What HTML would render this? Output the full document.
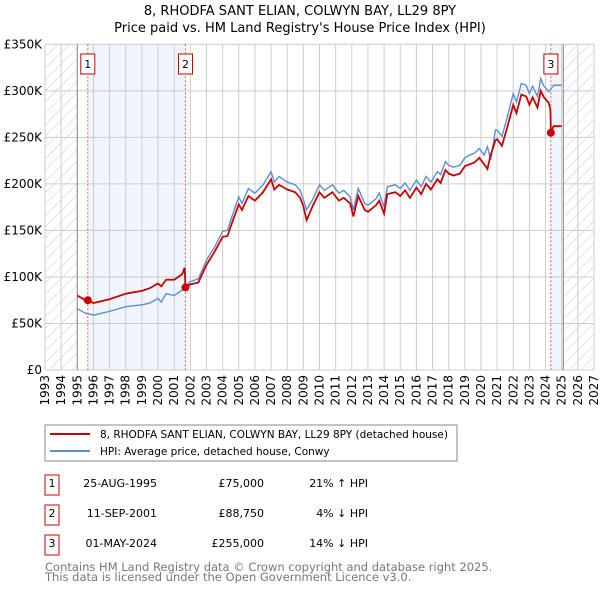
<!DOCTYPE html>
<html><head><meta charset="utf-8"><style>
body{margin:0;background:#fff;font-family:"DejaVu Sans","Liberation Sans",sans-serif;}
svg text{font-family:"DejaVu Sans","Liberation Sans",sans-serif;}
</style></head><body>
<svg id="chart" width="600" height="590" xmlns="http://www.w3.org/2000/svg">
<defs><pattern id="hatch" width="8" height="8" patternUnits="userSpaceOnUse" patternTransform="rotate(45)"><line x1="0" y1="0" x2="0" y2="8" stroke="#ccc" stroke-width="1"/></pattern></defs>
<text x="300" y="15" text-anchor="middle" font-size="13">8, RHODFA SANT ELIAN, COLWYN BAY, LL29 8PY</text>
<text x="300" y="32" text-anchor="middle" font-size="13">Price paid vs. HM Land Registry's House Price Index (HPI)</text>
<g id="plot"></g>
<rect x="45" y="425" width="412" height="36" fill="#fff" stroke="#888"/>
<line x1="50" y1="434" x2="90" y2="434" stroke="#cc0000" stroke-width="2"/>
<text x="100" y="438" font-size="10.5">8, RHODFA SANT ELIAN, COLWYN BAY, LL29 8PY (detached house)</text>
<line x1="50" y1="451" x2="90" y2="451" stroke="#5b8fd0" stroke-width="2"/>
<text x="100" y="455" font-size="10.5">HPI: Average price, detached house, Conwy</text>
<g font-size="11">
<rect x="45" y="475" width="14" height="20" fill="#fff" stroke="#cc0000"/><text x="52" y="487" text-anchor="middle">1</text>
<text x="157" y="487" text-anchor="end">25-AUG-1995</text><text x="264" y="487" text-anchor="end">£75,000</text><text x="368" y="487" text-anchor="end">21% ↑ HPI</text>
<rect x="45" y="505" width="14" height="20" fill="#fff" stroke="#cc0000"/><text x="52" y="517" text-anchor="middle">2</text>
<text x="157" y="517" text-anchor="end">11-SEP-2001</text><text x="264" y="517" text-anchor="end">£88,750</text><text x="368" y="517" text-anchor="end">4% ↓ HPI</text>
<rect x="45" y="535" width="14" height="20" fill="#fff" stroke="#cc0000"/><text x="52" y="547" text-anchor="middle">3</text>
<text x="157" y="547" text-anchor="end">01-MAY-2024</text><text x="264" y="547" text-anchor="end">£255,000</text><text x="368" y="547" text-anchor="end">14% ↓ HPI</text>
</g>
<text x="45" y="571" font-size="11.5" fill="#777">Contains HM Land Registry data © Crown copyright and database right 2025.</text>
<text x="45" y="581" font-size="11.5" fill="#777">This data is licensed under the Open Government Licence v3.0.</text>
</svg>
<script>
const hpiYears=[1995.0,1995.5,1996,1997,1998,1999,1999.5,2000,2000.2,2000.5,2001,2001.5,2002,2002.5,2003,2003.5,2004,2004.3,2004.6,2005,2005.2,2005.6,2006,2006.5,2007,2007.2,2007.5,2008,2008.5,2008.8,2009.0,2009.2,2009.6,2010,2010.3,2010.8,2011.2,2011.5,2011.9,2012.1,2012.4,2012.8,2013,2013.5,2013.7,2014,2014.2,2014.7,2015,2015.3,2015.6,2016,2016.3,2016.6,2016.9,2017.3,2017.5,2017.8,2018,2018.3,2018.7,2019,2019.3,2019.6,2019.9,2020.2,2020.4,2020.6,2020.9,2021,2021.3,2021.6,2022,2022.2,2022.5,2022.8,2023,2023.2,2023.5,2023.7,2023.9,2024.2,2024.5,2025.0];
const hpiValues=[66,61,59,63,68,70,72,77,73,82,80,86,95,98,118,132,149,150,166,186,179,195,190,199,213,202,208,202,199,193,183,172,184,199,193,199,190,193,186,172,195,179,177,184,190,175,197,199,195,201,193,204,197,208,202,213,210,224,220,218,220,228,231,233,238,231,240,226,258,258,251,270,297,288,308,306,297,305,294,313,305,299,306,306];
const priceYears=[1995.0,1995.5,1995.65,1996,1997,1998,1999,1999.5,2000,2000.2,2000.5,2001,2001.5,2001.65,2001.7,2002,2002.5,2003,2003.5,2004,2004.3,2004.6,2005,2005.2,2005.6,2006,2006.5,2007,2007.2,2007.5,2008,2008.5,2008.8,2009.0,2009.2,2009.6,2010,2010.3,2010.8,2011.2,2011.5,2011.9,2012.1,2012.4,2012.8,2013,2013.5,2013.7,2014,2014.2,2014.7,2015,2015.3,2015.6,2016,2016.3,2016.6,2016.9,2017.3,2017.5,2017.8,2018,2018.3,2018.7,2019,2019.3,2019.6,2019.9,2020.2,2020.4,2020.6,2020.9,2021,2021.3,2021.6,2022,2022.2,2022.5,2022.8,2023,2023.2,2023.5,2023.7,2023.9,2024.2,2024.3,2024.33,2024.5,2025.0];
const priceValues=[80,75,75,72,76,82,85,88,93,90,97,97,103,110,89,92,94,113,127,143,144,159,178,172,187,182,191,205,194,199,194,191,185,176,161,177,191,185,191,182,185,179,165,187,172,170,177,182,168,189,191,187,193,185,196,189,200,194,205,201,215,211,209,211,219,221,223,228,221,216,231,247,248,241,259,285,276,296,294,285,293,282,300,293,287,280,255,262,262];
const yearTicks=[1993,1994,1995,1996,1997,1998,1999,2000,2001,2002,2003,2004,2005,2006,2007,2008,2009,2010,2011,2012,2013,2014,2015,2016,2017,2018,2019,2020,2021,2022,2023,2024,2025,2026,2027];
const valueTicks=[0,50,100,150,200,250,300,350];
const valueLabels=["£0","£50K","£100K","£150K","£200K","£250K","£300K","£350K"];
const saleYears=[1995.65,2001.7,2024.33];
const saleValues=[75,88.75,255];
const saleLabels=["1","2","3"];

const X0=45,X1=594,Y0=370,Y1=44.3;
const xs=y=>X0+(y-1993)/(2027-1993)*(X1-X0);
const ys=v=>Y0-v/350*(Y0-Y1);
const NS="http://www.w3.org/2000/svg";
const g=document.getElementById('plot');
function mk(tag,attrs){const e=document.createElementNS(NS,tag);for(const k in attrs)e.setAttribute(k,attrs[k]);g.appendChild(e);return e;}
let e;
e=mk('rect',{x:X0,y:Y1,width:X1-X0,height:Y0-Y1,fill:'#fff'});


e=mk('rect',{x:xs(1995.65),y:Y1,width:xs(2001.7)-xs(1995.65),height:Y0-Y1,fill:'#eef3fc',opacity:0.8});


e=mk('rect',{x:xs(2024.33),y:Y1,width:xs(2025.1)-xs(2024.33),height:Y0-Y1,fill:'#eef3fc',opacity:0.8});


e=mk('rect',{x:X0,y:Y1,width:xs(1995)-X0,height:Y0-Y1,fill:'url(#hatch)'});


e=mk('rect',{x:xs(2025.1),y:Y1,width:X1-xs(2025.1),height:Y0-Y1,fill:'url(#hatch)'});


yearTicks.forEach(t=>{
  e=mk('line',{x1:xs(t),x2:xs(t),y1:Y1,y2:Y0,stroke:'#ccc','stroke-width':1});
  
  
  e=mk('text',{x:0,y:0,'font-size':12,'text-anchor':'end',transform:`translate(${xs(t)+4},${Y0+5}) rotate(-90)`});
  e.textContent=t;
  
  
});
valueTicks.forEach((v,i)=>{
  e=mk('line',{x1:X0,x2:X1,y1:ys(v),y2:ys(v),stroke:'#ccc','stroke-width':1});
  
  
  e=mk('text',{x:X0-3,y:ys(v)+4,'font-size':12,'text-anchor':'end'});
  e.textContent=valueLabels[i];
  
  
});
[1995,2025.1].forEach(t=>{
  e=mk('line',{x1:xs(t),x2:xs(t),y1:Y1,y2:Y0,stroke:'#888','stroke-width':1});
  
  
});
saleYears.forEach(t=>{
  e=mk('line',{x1:xs(t),x2:xs(t),y1:Y1,y2:Y0,stroke:'#e06060','stroke-width':1,'stroke-dasharray':'2,2'});
  
  
});
e=mk('polyline',{points:hpiYears.map((y,i)=>xs(y)+','+ys(hpiValues[i])).join(' '),fill:'none',stroke:'#5b8fd0','stroke-width':1.4});


e=mk('polyline',{points:priceYears.map((y,i)=>xs(y)+','+ys(priceValues[i])).join(' '),fill:'none',stroke:'#cc0000','stroke-width':1.8});


saleYears.forEach((t,i)=>{
  e=mk('circle',{cx:xs(t),cy:ys(saleValues[i]),r:4,fill:'#cc0000'});
  
  
  const bx=xs(t)-7;
  e=mk('rect',{x:bx,y:54,width:14,height:20,fill:'#fff',stroke:'#cc0000'});
  
  
  e=mk('text',{x:xs(t),y:68,'font-size':11,'text-anchor':'middle'});
  e.textContent=saleLabels[i];
  
  
});
</script>
</body></html>
